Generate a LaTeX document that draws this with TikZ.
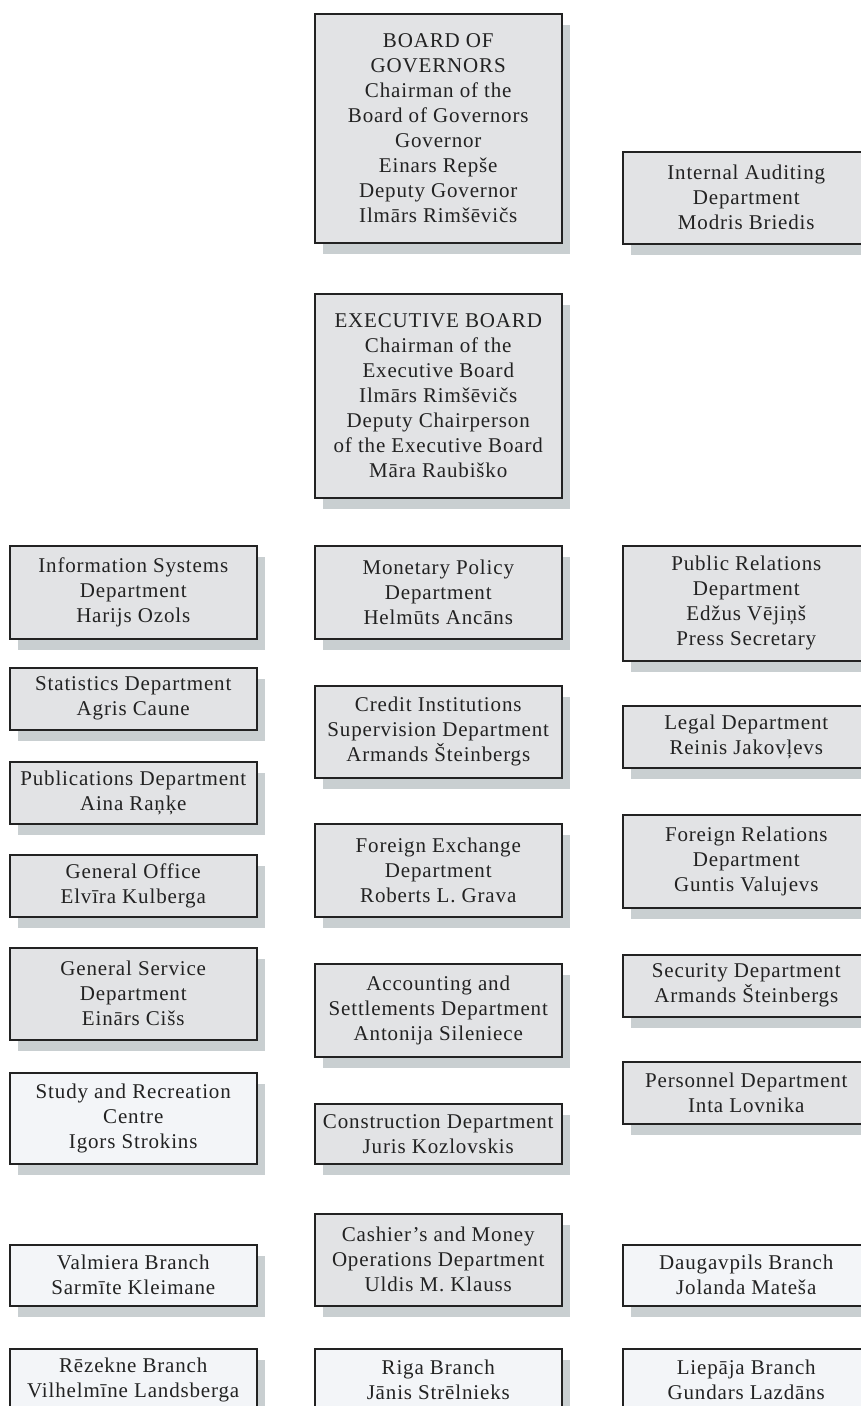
\documentclass[tikz,border=0pt]{standalone}
\usepackage{fontspec}
\setmainfont{Liberation Serif}[LetterSpace=4]
\usetikzlibrary{shadows}
\definecolor{deptgray}{HTML}{E2E3E5}
\definecolor{branchgray}{HTML}{F3F5F8}
\definecolor{shadowgray}{HTML}{C9CFD1}
\definecolor{inkgray}{HTML}{222222}
\newcommand{\orgbox}[6][dept]{%
\node [#1, minimum height=#5] (#2) at (#3,#4) {#6};
}
\tikzset{
  unit/.style={draw=inkgray, line width=1.5pt, anchor=north west,
    minimum width=247pt, inner sep=0pt, align=center, text=inkgray,
    font={\fontsize{21}{25}\selectfont},
    drop shadow={shadow xshift=8pt, shadow yshift=-11pt, fill=shadowgray, opacity=1}},
  dept/.style={unit, fill=deptgray},
  branch/.style={unit, fill=branchgray}
}
\begin{document}
\begin{tikzpicture}[x=1pt, y=-1pt]
\useasboundingbox (0,0) rectangle (861,1406);
% boards
\orgbox{board}{314}{13}{229pt}{BOARD OF\\GOVERNORS\\Chairman of the\\Board of Governors\\Governor\\Einars Repše\\Deputy Governor\\Ilmārs Rimšēvičs}
\orgbox{audit}{622}{151}{92pt}{Internal Auditing\\Department\\Modris Briedis}
\orgbox{exec}{314}{293}{204pt}{EXECUTIVE BOARD\\Chairman of the\\Executive Board\\Ilmārs Rimšēvičs\\Deputy Chairperson\\of the Executive Board\\Māra Raubiško}
% left column
\orgbox{infosys}{9}{545}{93pt}{Information Systems\\Department\\Harijs Ozols}
\orgbox{stat}{9}{667}{62pt}{Statistics Department\\Agris Caune}
\orgbox{publ}{9}{761}{62pt}{Publications Department\\Aina Raņķe}
\orgbox{genoff}{9}{854}{62pt}{General Office\\Elvīra Kulberga}
\orgbox{genserv}{9}{947}{92pt}{General Service\\Department\\Einārs Cišs}
\orgbox[branch]{study}{9}{1072}{91pt}{Study and Recreation\\Centre\\Igors Strokins}
\orgbox[branch]{valmiera}{9}{1244}{61pt}{Valmiera Branch\\Sarmīte Kleimane}
\orgbox[branch]{rezekne}{9}{1348}{62pt}{Rēzekne Branch\\Vilhelmīne Landsberga}
% middle column
\orgbox{monet}{314}{545}{93pt}{Monetary Policy\\Department\\Helmūts Ancāns}
\orgbox{credit}{314}{685}{92pt}{Credit Institutions\\Supervision Department\\Armands Šteinbergs}
\orgbox{forex}{314}{823}{93pt}{Foreign Exchange\\Department\\Roberts L. Grava}
\orgbox{acct}{314}{963}{93pt}{Accounting and\\Settlements Department\\Antonija Sileniece}
\orgbox{constr}{314}{1103}{60pt}{Construction Department\\Juris Kozlovskis}
\orgbox{cashier}{314}{1213}{92pt}{Cashier's and Money\\Operations Department\\Uldis M. Klauss}
\orgbox[branch]{riga}{314}{1348}{62pt}{Riga Branch\\Jānis Strēlnieks}
% right column
\orgbox{pubrel}{622}{545}{115pt}{Public Relations\\Department\\Edžus Vējiņš\\Press Secretary}
\orgbox{legal}{622}{705}{62pt}{Legal Department\\Reinis Jakovļevs}
\orgbox{forrel}{622}{814}{93pt}{Foreign Relations\\Department\\Guntis Valujevs}
\orgbox{secur}{622}{954}{62pt}{Security Department\\Armands Šteinbergs}
\orgbox{person}{622}{1061}{62pt}{Personnel Department\\Inta Lovnika}
\orgbox[branch]{daugav}{622}{1244}{61pt}{Daugavpils Branch\\Jolanda Mateša}
\orgbox[branch]{liepaja}{622}{1348}{62pt}{Liepāja Branch\\Gundars Lazdāns}
\end{tikzpicture}
\end{document}
